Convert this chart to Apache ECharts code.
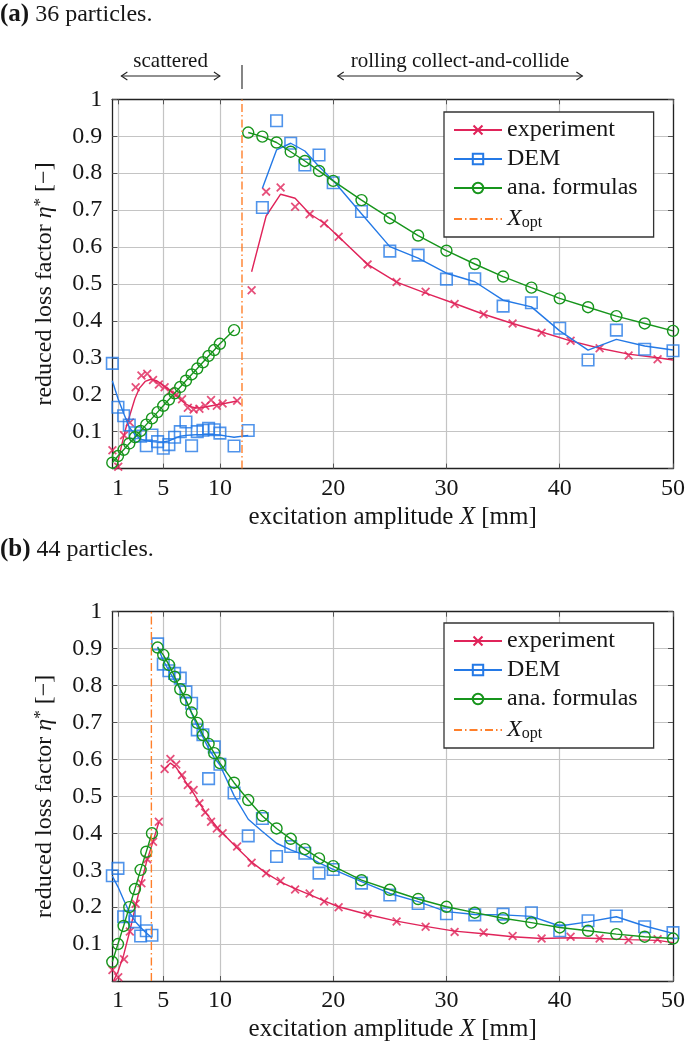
<!DOCTYPE html>
<html><head><meta charset="utf-8">
<script src="https://cdn.jsdelivr.net/npm/echarts/dist/echarts.min.js"></script>
<style>html,body{margin:0;padding:0;background:#fff;}#c{width:685px;height:1041px;}</style>
</head><body><div id="c"></div>
<script>
// ---------- data ----------
const xTicks = [1, 5, 10, 20, 30, 40, 50];
const legendNames = ['experiment', 'DEM', 'ana. formulas', 'X_opt'];
const panelTitles = ['{b|(a)} 36 particles.', '{b|(b)} 44 particles.'];
const scatteredRange = [1.3, 10];
const rollingRange = [20.4, 42];
const xOpt = [11.95, 3.95];

// panel (a) 36 particles
const expA_markX = [0.512,1.024,1.536,2.048,2.56,3.072,3.584,4.096,4.608,5.12,5.632,6.144,6.656,7.168,7.68,8.192,8.704,9.216,9.728,10.24,11.52,12.8,14.08,15.36,16.64,17.92,19.2,20.48,23.04,25.6,28.16,30.72,33.28,35.84,38.4,40.96,43.52,46.08,48.64];
const expA_markY = [0.05,0.005,0.09,0.125,0.22,0.252,0.257,0.24,0.228,0.22,0.21,0.2,0.188,0.165,0.16,0.162,0.17,0.186,0.17,0.176,0.184,0.483,0.75,0.761,0.709,0.689,0.664,0.628,0.553,0.505,0.479,0.446,0.418,0.393,0.368,0.346,0.326,0.306,0.296];
const expA_lineX = [0.85,1.3,1.7,2.1,2.5,2.9,3.4,3.9,4.4,4.9,5.4,5.9,6.4,6.9,7.4,7.9,8.4,8.9,9.4,9.9,10.5,11.52,12.2,12.8,14.08,15.36,16.64,17.92,19.2,20.48,23.04,25.6,28.16,30.72,33.28,35.84,38.4,40.96,43.52,46.08,48.64,50];
const expA_lineY = [0,0.06,0.11,0.15,0.19,0.218,0.236,0.242,0.238,0.228,0.216,0.204,0.19,0.177,0.168,0.164,0.165,0.168,0.171,0.174,0.177,0.183,null,0.533,0.684,0.743,0.732,0.69,0.665,0.628,0.553,0.505,0.475,0.447,0.418,0.393,0.37,0.346,0.326,0.31,0.3,0.294];
const demA_markX = [0.5,1,1.5,2,2.5,3,3.5,4,4.5,5,5.5,6,6.5,7,7.5,8,8.5,9,9.5,10,11.25,12.5,13.75,15,16.25,17.5,18.75,20,22.5,25,27.5,30,32.5,35,37.5,40,42.5,45,47.5,50];
const demA_markY = [0.285,0.166,0.143,0.118,0.097,0.088,0.062,0.091,0.073,0.055,0.065,0.085,0.1,0.126,0.062,0.1,0.104,0.109,0.105,0.096,0.061,0.103,0.707,0.942,0.881,0.822,0.849,0.774,0.696,0.589,0.578,0.513,0.514,0.44,0.449,0.38,0.294,0.375,0.323,0.319];
const demA_lineX = [0.5,1,1.5,2,2.5,3,3.5,4,4.5,5,5.5,6,6.5,7,7.5,8,8.5,9,9.5,10,10.6,11.25,12.5,13.1,13.75,15,16.25,17.5,18.75,20,22.5,25,27.5,30,32.5,35,37.5,40,42.5,45,47.5,50];
const demA_lineY = [0.238,0.19,0.15,0.112,0.092,0.08,0.075,0.073,0.072,0.072,0.075,0.082,0.088,0.09,0.091,0.092,0.092,0.092,0.092,0.091,0.088,0.085,0.09,null,0.759,0.863,0.881,0.86,0.818,0.78,0.69,0.601,0.57,0.529,0.506,0.456,0.438,0.373,0.321,0.35,0.332,0.321];
const anaA_x = [0.5,1,1.5,2,2.5,3,3.5,4,4.5,5,5.5,6,6.5,7,7.5,8,8.5,9,9.5,10,11.25,11.9,12.5,13.75,15,16.25,17.5,18.75,20,22.5,25,27.5,30,32.5,35,37.5,40,42.5,45,47.5,50];
const anaA_y = [0.016,0.034,0.051,0.068,0.085,0.102,0.119,0.136,0.153,0.17,0.187,0.204,0.221,0.238,0.255,0.271,0.288,0.305,0.321,0.338,0.375,null,0.91,0.899,0.883,0.858,0.833,0.806,0.779,0.727,0.678,0.631,0.59,0.554,0.52,0.49,0.461,0.437,0.413,0.393,0.373];

// panel (b) 44 particles
const expB_markX = [0.512,1.024,1.536,2.048,2.56,3.072,3.584,4.096,4.608,5.12,5.632,6.144,6.656,7.168,7.68,8.192,8.704,9.216,9.728,10.24,11.52,12.8,14.08,15.36,16.64,17.92,19.2,20.48,23.04,25.6,28.16,30.72,33.28,35.84,38.4,40.96,43.52,46.08,48.64];
const expB_markY = [0.03,0.01,0.059,0.134,0.209,0.265,0.33,0.377,0.431,0.574,0.601,0.586,0.558,0.531,0.517,0.481,0.456,0.431,0.413,0.4,0.364,0.32,0.292,0.271,0.248,0.237,0.215,0.2,0.181,0.161,0.147,0.133,0.131,0.122,0.115,0.12,0.115,0.111,0.113];
const expB_lineX = [0.6,1.0,1.5,2.0,2.5,3.0,3.5,4.1,4.608,4.85,5.12,5.632,6.144,6.656,7.168,7.68,8.192,8.704,9.216,9.728,10.24,11.52,12.8,14.08,15.36,16.64,17.92,19.2,20.48,23.04,25.6,28.16,30.72,33.28,35.84,38.4,40.96,43.52,46.08,48.64,50];
const expB_lineY = [0,0.025,0.07,0.13,0.195,0.26,0.32,0.378,0.43,null,0.575,0.59,0.578,0.555,0.53,0.508,0.482,0.458,0.437,0.417,0.4,0.36,0.322,0.292,0.268,0.25,0.234,0.217,0.201,0.18,0.162,0.148,0.135,0.128,0.12,0.115,0.117,0.115,0.112,0.11,0.104];
const demB_markX = [0.5,1,1.5,2,2.5,3,3.5,4,4.5,5,5.5,6,6.5,7,7.5,8,8.5,9,9.5,10,11.25,12.5,13.75,15,16.25,17.5,18.75,20,22.5,25,27.5,30,32.5,35,37.5,40,42.5,45,47.5,50];
const demB_markY = [0.285,0.305,0.174,0.175,0.16,0.122,0.136,0.124,0.913,0.858,0.84,0.833,0.82,0.783,0.752,0.68,0.667,0.548,0.634,0.587,0.509,0.393,0.44,0.337,0.364,0.346,0.292,0.302,0.265,0.233,0.21,0.182,0.179,0.181,0.185,0.136,0.163,0.176,0.147,0.131];
const demB_lineX = [0.5,1,1.5,2,2.5,3,3.5,4,4.25,4.5,5,5.5,6,6.5,7,7.5,8,8.5,9,9.5,10,11.25,12.5,13.75,15,16.25,17.5,18.75,20,22.5,25,27.5,30,32.5,35,37.5,40,42.5,45,47.5,50];
const demB_lineY = [0.284,0.255,0.22,0.187,0.162,0.145,0.13,0.117,null,0.905,0.868,0.84,0.815,0.79,0.76,0.725,0.69,0.66,0.63,0.605,0.585,0.502,0.438,0.405,0.373,0.355,0.341,0.32,0.302,0.269,0.237,0.215,0.188,0.18,0.179,0.175,0.149,0.16,0.174,0.149,0.129];
const anaB_x = [0.5,1,1.5,2,2.5,3,3.5,4,4.25,4.5,5,5.5,6,6.5,7,7.5,8,8.5,9,9.5,10,11.25,12.5,13.75,15,16.25,17.5,18.75,20,22.5,25,27.5,30,32.5,35,37.5,40,42.5,45,47.5,50];
const anaB_y = [0.052,0.1,0.149,0.2,0.249,0.301,0.35,0.4,null,0.903,0.883,0.856,0.824,0.79,0.761,0.727,0.699,0.666,0.642,0.617,0.59,0.537,0.49,0.447,0.413,0.385,0.357,0.332,0.311,0.273,0.247,0.222,0.201,0.185,0.17,0.158,0.145,0.136,0.127,0.12,0.115];

// ---------- styling ----------
const RED = '#e0245a', BLUE = '#2479e6', GREEN = '#17951c', ORANGE = '#ff7f2a';
const FONT = 'Liberation Serif', TXT = '#161616';
const CROSS = 'path://M1.4,0L5,3.6L8.6,0L10,1.4L6.4,5L10,8.6L8.6,10L5,6.4L1.4,10L0,8.6L3.6,5L0,1.4Z';
const NONE = 'rgba(0,0,0,0)';
const FS = 24;

const pairs = (xs, ys) => xs.map((x, i) => [x, ys[i] === null ? '-' : ys[i]]);

const chart = echarts.init(document.getElementById('c'), null, {renderer: 'canvas'});

const gridTops = [99.3, 611.7];
const grids = gridTops.map(t => ({left: 112.3, top: t, width: 560.7, height: 369.3, containLabel: false, outerBoundsMode: 'none'}));

function xAx(gi, top) {
  return {
    type: 'value', gridIndex: gi, position: top ? 'top' : 'bottom', min: 0.5, max: 50,
    axisLine: {show: true, onZero: false, lineStyle: {color: '#222', width: 1.3}},
    axisTick: {show: true, inside: true, length: 5, customValues: xTicks, lineStyle: {color: '#555', width: 1}},
    axisLabel: {show: !top, customValues: xTicks, margin: 8, fontFamily: FONT, fontSize: FS, color: TXT},
    splitLine: {show: !top, lineStyle: {color: '#c4c4c4', width: 1.2}},
    name: top ? '' : 'excitation amplitude {i|X} [mm]',
    nameLocation: 'middle', nameGap: 36, nameMoveOverlap: false,
    nameTextStyle: {fontFamily: FONT, fontSize: 25, color: TXT,
      rich: {i: {fontFamily: FONT, fontSize: 25, color: TXT, fontStyle: 'italic'}}}
  };
}
function yAx(gi, right) {
  return {
    type: 'value', gridIndex: gi, position: right ? 'right' : 'left', min: 0, max: 1, interval: 0.1,
    axisLine: {show: true, onZero: false, lineStyle: {color: '#222', width: 1.3}},
    axisTick: {show: true, inside: true, length: 5, lineStyle: {color: '#555', width: 1}},
    axisLabel: {show: !right, margin: 10, fontFamily: FONT, fontSize: FS, color: TXT,
      formatter: v => (Math.abs(v) < 1e-9 ? '' : (Math.abs(v - 1) < 1e-9 ? '1' : v.toFixed(1)))},
    splitLine: {show: !right, lineStyle: {color: '#c4c4c4', width: 1.2}},
    name: right ? '' : 'reduced loss factor {i|η}{s|*} [−]',
    nameLocation: 'middle', nameGap: 56, nameRotate: 90, nameMoveOverlap: false,
    nameTextStyle: {fontFamily: FONT, fontSize: FS, color: TXT,
      rich: {i: {fontFamily: FONT, fontSize: FS, color: TXT, fontStyle: 'italic'},
             s: {fontFamily: FONT, fontSize: 17, color: TXT, verticalAlign: 'top'}}}
  };
}

const panels = [
  {exM: [expA_markX, expA_markY], exL: [expA_lineX, expA_lineY], deM: [demA_markX, demA_markY], deL: [demA_lineX, demA_lineY], an: [anaA_x, anaA_y]},
  {exM: [expB_markX, expB_markY], exL: [expB_lineX, expB_lineY], deM: [demB_markX, demB_markY], deL: [demB_lineX, demB_lineY], an: [anaB_x, anaB_y]}
];

const series = [];
panels.forEach((p, gi) => {
  const ax = {xAxisIndex: gi * 2, yAxisIndex: gi * 2};
  series.push(
    {type: 'line', name: legendNames[0], ...ax, data: pairs(...p.exL), symbol: CROSS, symbolSize: 9, showSymbol: false,
     lineStyle: {color: RED, width: 1.4}, itemStyle: {color: RED}, connectNulls: false, silent: true, z: 3},
    {type: 'scatter', name: 'experiment data', ...ax, data: pairs(...p.exM), symbol: CROSS, symbolSize: 9,
     itemStyle: {color: RED}, silent: true, z: 3},
    {type: 'line', name: legendNames[1], ...ax, data: pairs(...p.deL), symbol: 'rect', symbolSize: 11, showSymbol: false,
     lineStyle: {color: BLUE, width: 1.4}, itemStyle: {color: NONE, borderColor: BLUE, borderWidth: 1.6}, connectNulls: false, silent: true, z: 4},
    {type: 'scatter', name: 'DEM data', ...ax, data: pairs(...p.deM), symbol: 'rect', symbolSize: 11.5,
     itemStyle: {color: NONE, borderColor: BLUE, borderWidth: 1.6}, silent: true, z: 4},
    {type: 'line', name: legendNames[2], ...ax, data: pairs(...p.an), symbol: 'circle', symbolSize: 11, showSymbol: true,
     lineStyle: {color: GREEN, width: 1.4}, itemStyle: {color: NONE, borderColor: GREEN, borderWidth: 1.4}, connectNulls: false, silent: true, z: 5},
    {type: 'line', name: legendNames[3], ...ax, data: [[xOpt[gi], 0], [xOpt[gi], 1]], symbol: 'none',
     lineStyle: {color: ORANGE, width: 1.4, type: [8, 3, 1.5, 3]}, silent: true, z: 6}
  );
});

const legendRich = {
  i: {fontFamily: FONT, fontSize: FS, color: TXT, fontStyle: 'italic', verticalAlign: 'top', lineHeight: 24},
  s: {fontFamily: FONT, fontSize: 16, color: TXT, verticalAlign: 'bottom', lineHeight: 16, padding: [10, 0, 0, 0]}
};

const option = {
  animation: false,
  backgroundColor: '#fff',
  title: panelTitles.map((t, i) => ({
    text: t, left: 0, top: i === 0 ? 2 : 537, padding: 0,
    textStyle: {fontFamily: FONT, fontSize: FS, color: TXT, fontWeight: 'normal',
      rich: {b: {fontFamily: FONT, fontSize: 25, color: TXT, fontWeight: 'bold'}}}
  })),
  grid: grids,
  xAxis: [xAx(0, false), xAx(0, true), xAx(1, false), xAx(1, true)],
  yAxis: [yAx(0, false), yAx(0, true), yAx(1, false), yAx(1, true)],
  legend: [0, 1].map(i => ({
    orient: 'vertical', left: 444, top: i === 0 ? 112 : 623,
    itemWidth: 48, itemHeight: 13, itemGap: 5,
    padding: [6, 16, 6, 9], borderColor: '#333', borderWidth: 1.3, backgroundColor: '#fff', borderRadius: 0,
    selectedMode: false, z: 10,
    textStyle: {fontFamily: FONT, fontSize: FS, color: TXT, rich: legendRich},
    formatter: n => (n === 'X_opt' ? '{i|X}{s|opt}' : n),
    data: [legendNames[0], legendNames[1], legendNames[2], {name: legendNames[3], itemStyle: {opacity: 0}}]
  })),
  series: series
};
chart.setOption(option);

// annotations above panel (a), positioned through the axis scale
const px = v => chart.convertToPixel({xAxisIndex: 0}, v);
const AY = 76, TY = 61;
const annoFont = '21px "Liberation Serif"';
function arrow(a, b, label) {
  const x0 = px(a), x1 = px(b);
  const st = {stroke: '#222', lineWidth: 1.1, fill: 'none'};
  return [
    {type: 'line', shape: {x1: x0, y1: AY, x2: x1, y2: AY}, style: st, silent: true},
    {type: 'polyline', shape: {points: [[x0 + 6, AY - 4], [x0, AY], [x0 + 6, AY + 4]]}, style: st, silent: true},
    {type: 'polyline', shape: {points: [[x1 - 6, AY - 4], [x1, AY], [x1 - 6, AY + 4]]}, style: st, silent: true},
    {type: 'text', x: (x0 + x1) / 2, y: TY, silent: true,
     style: {text: label, font: annoFont, fill: TXT, textAlign: 'center', textVerticalAlign: 'middle'}}
  ];
}
const els = [];
els.push(...arrow(scatteredRange[0], scatteredRange[1], 'scattered'));
els.push(...arrow(rollingRange[0], rollingRange[1], 'rolling collect-and-collide'));
const xb = px(xOpt[0]);
els.push({type: 'line', shape: {x1: xb, y1: 65, x2: xb, y2: 89}, style: {stroke: '#222', lineWidth: 1.1}, silent: true});
chart.setOption({graphic: {elements: els}});
</script>
</body></html>
